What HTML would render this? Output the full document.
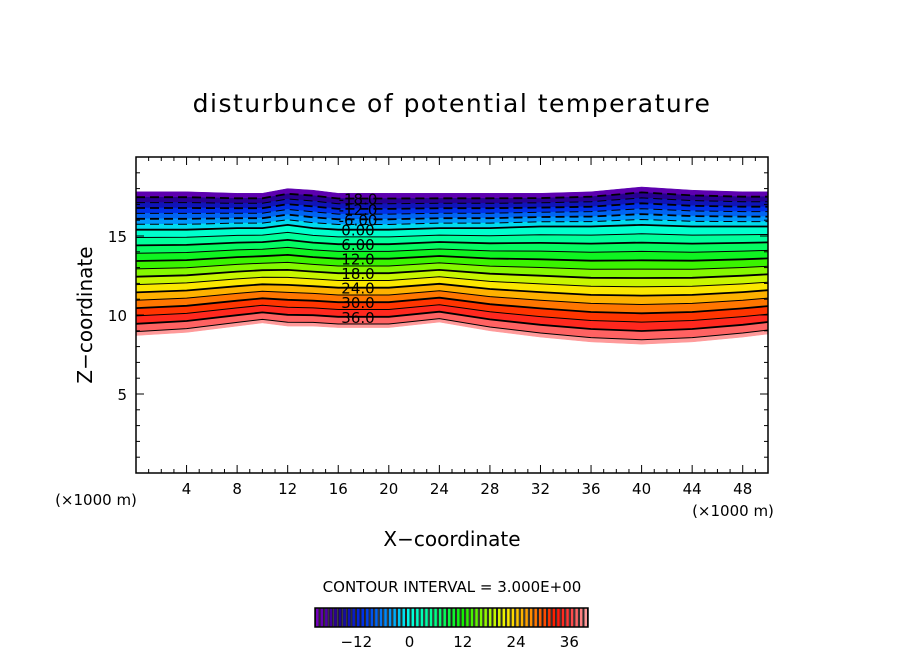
<!DOCTYPE html>
<html><head><meta charset="utf-8"><style>
body{margin:0;background:#fff;}
svg text{font-family:"DejaVu Sans","Liberation Sans",sans-serif;fill:#000;}
</style></head><body>
<svg id="chart" width="904" height="654" viewBox="0 0 904 654" xmlns="http://www.w3.org/2000/svg">
<rect width="904" height="654" fill="#fff"/>
<text x="452" y="112" font-size="25" text-anchor="middle" letter-spacing="1.5">disturbunce of potential temperature</text>
<g id="bands"></g>
<g id="lines"></g>
<g id="labels"></g>
<rect x="136" y="157" width="632" height="316" fill="none" stroke="#000" stroke-width="1.5"/>
<g id="axes"></g>
<text transform="translate(92,315) rotate(-90)" font-size="20" text-anchor="middle">Z−coordinate</text>
<text x="452" y="546" font-size="20" text-anchor="middle">X−coordinate</text>
<text x="96" y="505" font-size="15" text-anchor="middle">(×1000 m)</text>
<text x="733" y="516" font-size="15" text-anchor="middle">(×1000 m)</text>
<text x="452" y="592" font-size="15" text-anchor="middle">CONTOUR INTERVAL = 3.000E+00</text>
<g id="cbar"></g>
</svg>
<script>
const xKm   = [0,   4,   8,   10,  12,  14,  16,  20,  24,  28,  32,  36,  40,  44,  48,  50];
const zTop  = [17.8,17.8,17.7,17.7,18.0,17.9,17.7,17.7,17.7,17.7,17.7,17.8,18.1,17.9,17.8,17.8];
const zZero = [15.4,15.4,15.5,15.5,15.7,15.5,15.4,15.4,15.5,15.5,15.6,15.6,15.7,15.6,15.6,15.6];
const zBot  = [8.7, 8.9, 9.3, 9.5, 9.3, 9.3, 9.2, 9.2, 9.55,9.0, 8.6, 8.3, 8.15,8.3, 8.6, 8.8];
const vTop = -21, vBot = 40.5;
const levels = [-21,-18,-15,-12,-9,-6,-3,0,3,6,9,12,15,18,21,24,27,30,33,36,39];
const labelVals = [-18,-12,-6,0,6,12,18,24,30,36];
const labelText = ["-18.0","-12.0","-6.00","0.00","6.00","12.0","18.0","24.0","30.0","36.0"];
const xTicks = [4,8,12,16,20,24,28,32,36,40,44,48];
const yTicks = [5,10,15];
const cbTicks = [-12,0,12,24,36];

const NS="http://www.w3.org/2000/svg";
const sx = x => 136 + x*632/50;
const sy = z => 473 - z*316/20;
function mk(t,a,p){const e=document.createElementNS(NS,t);for(const k in a)e.setAttribute(k,a[k]);p.appendChild(e);return e;}
function zOf(i,v){
  if(v>=0) return zBot[i] + (zZero[i]-zBot[i])*(vBot-v)/vBot;
  return zZero[i] + (zTop[i]-zZero[i])*(v/vTop);
}
const stops=[[-21,[120,0,190]],[-16,[30,0,140]],[-11,[0,40,230]],[-4,[0,160,255]],[0,[0,255,230]],[6,[0,255,130]],[12,[20,240,0]],[18,[170,250,0]],[22,[250,240,0]],[27,[255,150,0]],[33,[255,20,0]],[36,[255,60,60]],[40,[255,160,160]]];
function col(v){for(let i=0;i<stops.length-1;i++){const a=stops[i],b=stops[i+1];if(v<=b[0]){const t=Math.max(0,(v-a[0])/(b[0]-a[0]));return 'rgb('+a[1].map((c,j)=>Math.round(c+(b[1][j]-c)*t)).join(',')+')';}}return 'rgb(255,160,160)';}
const bands=document.getElementById('bands'),lines=document.getElementById('lines'),labels=document.getElementById('labels');
function linePts(v){return xKm.map((x,i)=>sx(x).toFixed(1)+','+sy(zOf(i,Math.max(vTop,Math.min(vBot,v)))).toFixed(1));}
for(let k=0;k<levels.length;k++){
  const v0=levels[k], v1=(k+1<levels.length)?levels[k+1]:vBot;
  const up=linePts(v0), dn=linePts(v1).reverse();
  const p=mk('polygon',{points:up.concat(dn).join(' '),fill:col((v0+v1)/2),stroke:col((v0+v1)/2),'stroke-width':0.5},bands);
  
  
}
for(let k=1;k<levels.length;k++){
  const v=levels[k];
  const l=mk('polyline',{points:linePts(v).join(' '),fill:'none',stroke:'#000','stroke-width':(v%6===0)?1.8:1,'stroke-dasharray':v<0?'9,5':'none'},lines);
  
  
}
labelVals.forEach((v,j)=>{
  const z=zOf(7,v)*0.6+zOf(6,v)*0.4;
  const t=mk('text',{x:358,y:(sy(z)+6).toFixed(1),'font-size':15,'text-anchor':'middle'},labels);
  t.textContent=labelText[j];
  
  
});
const ax=document.getElementById('axes');
for(let x=1;x<50;x++){const major=x%4===0;const L=major?8:4;
  mk('line',{x1:sx(x),x2:sx(x),y1:473,y2:473-L,stroke:'#000'},ax);
  mk('line',{x1:sx(x),x2:sx(x),y1:157,y2:157+L,stroke:'#000'},ax);}
xTicks.forEach(x=>{const t=mk('text',{x:sx(x),y:494,'font-size':15,'text-anchor':'middle'},ax);t.textContent=x;
  
  });
for(let z=1;z<20;z++){const major=z%5===0;const L=major?8:4;
  mk('line',{x1:136,x2:136+L,y1:sy(z),y2:sy(z),stroke:'#000'},ax);
  mk('line',{x1:768,x2:768-L,y1:sy(z),y2:sy(z),stroke:'#000'},ax);}
yTicks.forEach(z=>{const t=mk('text',{x:127,y:sy(z)+6,'font-size':15,'text-anchor':'end'},ax);t.textContent=z;
  
  });
const cb=document.getElementById('cbar');
const cbMin=-21.3,cbMax=40.2,n=60;
const cx=v=>315+(v-cbMin)*273/(cbMax-cbMin);
for(let i=0;i<n;i++){const v=cbMin+(cbMax-cbMin)*(i+0.5)/n;const w=273/n;const x0=315+w*i;
  mk('rect',{x:x0,y:608,width:w,height:19,fill:'#222'},cb);
  mk('rect',{x:x0+1,y:608,width:Math.max(1,w-2),height:19,fill:col(v)},cb);}
mk('rect',{x:315,y:608,width:273,height:19,fill:'none',stroke:'#000','stroke-width':1.5},cb);
cbTicks.forEach(v=>{const t=mk('text',{x:cx(v),y:647,'font-size':15,'text-anchor':'middle'},cb);t.textContent=v<0?'−'+(-v):v;
  
  });
</script>
</body></html>
